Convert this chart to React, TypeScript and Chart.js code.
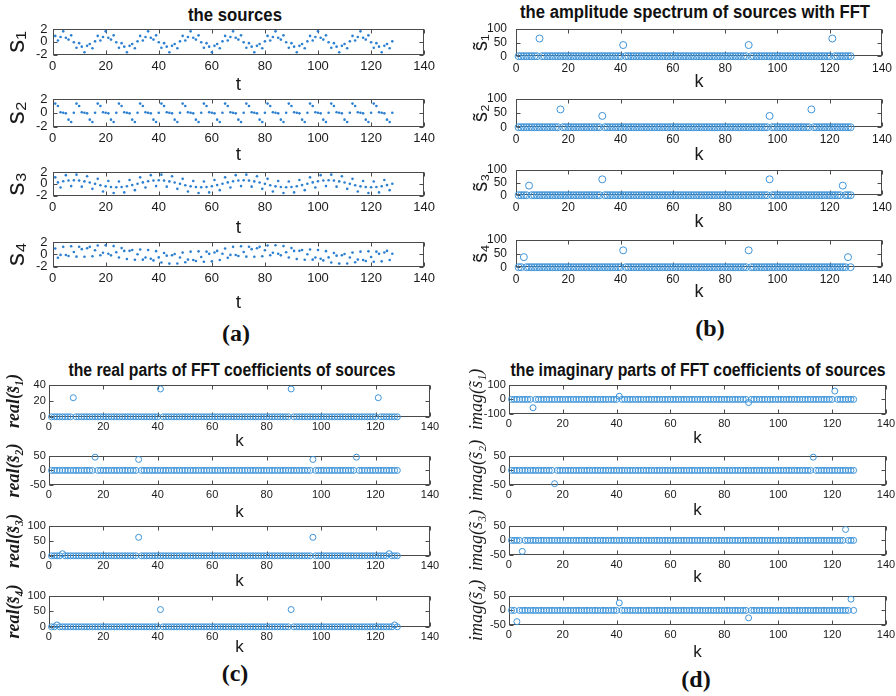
import React, { useEffect, useRef } from 'react';
import { Chart, registerables } from 'chart.js';

Chart.register(...registerables);

// ---------------- data ----------------
const X_TICKS = [0, 20, 40, 60, 80, 100, 120, 140];
const SRC_Y_TICKS = [-2, 0, 2];
const AMP_Y_TICKS = [0, 50, 100];
const REAL1_Y_TICKS = [0, 20, 40];
const PM50_Y_TICKS = [-50, 0, 50];
const PM100_Y_TICKS = [-100, 0, 100];

const PANEL_TITLES = [
  'the sources',
  'the amplitude spectrum of sources with FFT',
  'the real parts of FFT coefficients of sources',
  'the imaginary parts of FFT coefficients of sources',
];
const PANEL_TAGS = ['(a)', '(b)', '(c)', '(d)'];
const SUBSCRIPTS = ['\u2081', '\u2082', '\u2083', '\u2084'];

// sources s1..s4, t = 1..128
const s1 = [
  0.92,0.21,0.76,1.63,0.63,0.34,1.01,-0.07,-0.92,-0.21,-0.76,-1.63,-0.63,-0.34,-1.01,0.07,
  0.92,0.21,0.76,1.63,0.63,0.34,1.01,-0.07,-0.92,-0.21,-0.76,-1.63,-0.63,-0.34,-1.01,0.07,
  0.92,0.21,0.76,1.63,0.63,0.34,1.01,-0.07,-0.92,-0.21,-0.76,-1.63,-0.63,-0.34,-1.01,0.07,
  0.92,0.21,0.76,1.63,0.63,0.34,1.01,-0.07,-0.92,-0.21,-0.76,-1.63,-0.63,-0.34,-1.01,0.07,
  0.92,0.21,0.76,1.63,0.63,0.34,1.01,-0.07,-0.92,-0.21,-0.76,-1.63,-0.63,-0.34,-1.01,0.07,
  0.92,0.21,0.76,1.63,0.63,0.34,1.01,-0.07,-0.92,-0.21,-0.76,-1.63,-0.63,-0.34,-1.01,0.07,
  0.92,0.21,0.76,1.63,0.63,0.34,1.01,-0.07,-0.92,-0.21,-0.76,-1.63,-0.63,-0.34,-1.01,0.07,
  0.92,0.21,0.76,1.63,0.63,0.34,1.01,-0.07,-0.92,-0.21,-0.76,-1.63,-0.63,-0.34,-1.01,0.07,
];
const s2 = [
  1.33,0.99,0.08,0,-0.08,-0.99,-1.33,0,1.33,0.99,0.08,0,-0.08,-0.99,-1.33,0,
  1.33,0.99,0.08,0,-0.08,-0.99,-1.33,0,1.33,0.99,0.08,0,-0.08,-0.99,-1.33,0,
  1.33,0.99,0.08,0,-0.08,-0.99,-1.33,0,1.33,0.99,0.08,0,-0.08,-0.99,-1.33,0,
  1.33,0.99,0.08,0,-0.08,-0.99,-1.33,0,1.33,0.99,0.08,0,-0.08,-0.99,-1.33,0,
  1.33,0.99,0.08,0,-0.08,-0.99,-1.33,0,1.33,0.99,0.08,0,-0.08,-0.99,-1.33,0,
  1.33,0.99,0.08,0,-0.08,-0.99,-1.33,0,1.33,0.99,0.08,0,-0.08,-0.99,-1.33,0,
  1.33,0.99,0.08,0,-0.08,-0.99,-1.33,0,1.33,0.99,0.08,0,-0.08,-0.99,-1.33,0,
  1.33,0.99,0.08,0,-0.08,-0.99,-1.33,0,1.33,0.99,0.08,0,-0.08,-0.99,-1.33,0,
];
const s3 = [
  1.09,0.24,-0.63,0.43,1.47,0.55,-0.39,0.59,1.55,0.54,-0.48,0.41,1.29,0.22,-0.86,-0.01,
  0.84,-0.24,-1.31,-0.43,0.47,-0.55,-1.55,-0.59,0.39,-0.54,-1.46,-0.41,0.65,-0.22,-1.08,0.01,
  1.09,0.24,-0.63,0.43,1.47,0.55,-0.39,0.59,1.55,0.54,-0.48,0.41,1.29,0.22,-0.86,-0.01,
  0.84,-0.24,-1.31,-0.43,0.47,-0.55,-1.55,-0.59,0.39,-0.54,-1.46,-0.41,0.65,-0.22,-1.08,0.01,
  1.09,0.24,-0.63,0.43,1.47,0.55,-0.39,0.59,1.55,0.54,-0.48,0.41,1.29,0.22,-0.86,-0.01,
  0.84,-0.24,-1.31,-0.43,0.47,-0.55,-1.55,-0.59,0.39,-0.54,-1.46,-0.41,0.65,-0.22,-1.08,0.01,
  1.09,0.24,-0.63,0.43,1.47,0.55,-0.39,0.59,1.55,0.54,-0.48,0.41,1.29,0.22,-0.86,-0.01,
  0.84,-0.24,-1.31,-0.43,0.47,-0.55,-1.55,-0.59,0.39,-0.54,-1.46,-0.41,0.65,-0.22,-1.08,0.01,
];
const s4 = [
  0.95,-0.57,-0.10,1.21,-0.11,-0.28,1.31,0.38,-0.38,1.23,0.84,-0.40,0.99,1.21,-0.32,0.65,
  1.44,-0.15,0.24,1.48,0.08,-0.17,1.33,0.33,-0.52,1.01,0.55,-0.77,0.56,0.71,-0.89,0.02,
  0.77,-0.87,-0.51,0.70,-0.73,-0.99,0.51,-0.50,-1.33,0.21,-0.22,-1.51,-0.15,0.05,-1.49,-0.52,
  0.28,-1.29,-0.86,0.43,-0.92,-1.10,0.48,-0.45,-1.20,0.43,0.07,-1.15,0.29,0.55,-0.93,0.10,
  0.95,-0.57,-0.10,1.21,-0.11,-0.28,1.31,0.38,-0.38,1.23,0.84,-0.40,0.99,1.21,-0.32,0.65,
  1.44,-0.15,0.24,1.48,0.08,-0.17,1.33,0.33,-0.52,1.01,0.55,-0.77,0.56,0.71,-0.89,0.02,
  0.77,-0.87,-0.51,0.70,-0.73,-0.99,0.51,-0.50,-1.33,0.21,-0.22,-1.51,-0.15,0.05,-1.49,-0.52,
  0.28,-1.29,-0.86,0.43,-0.92,-1.10,0.48,-0.45,-1.20,0.43,0.07,-1.15,0.29,0.55,-0.93,0.10,
];

// amplitude spectra |FFT|, k = 1..128
const amp1 = [
  0,0,0,0,0,0,0,0,65,0,0,0,0,0,0,0, 0,0,0,0,0,0,0,0,0,0,0,0,0,0,0,0,
  0,0,0,0,0,0,0,0,41,0,0,0,0,0,0,0, 0,0,0,0,0,0,0,0,0,0,0,0,0,0,0,0,
  0,0,0,0,0,0,0,0,0,0,0,0,0,0,0,0, 0,0,0,0,0,0,0,0,41,0,0,0,0,0,0,0,
  0,0,0,0,0,0,0,0,0,0,0,0,0,0,0,0, 0,0,0,0,0,0,0,0,65,0,0,0,0,0,0,0,
];
const amp2 = [
  0,0,0,0,0,0,0,0,0,0,0,0,0,0,0,0, 63,0,0,0,0,0,0,0,0,0,0,0,0,0,0,0,
  40,0,0,0,0,0,0,0,0,0,0,0,0,0,0,0, 0,0,0,0,0,0,0,0,0,0,0,0,0,0,0,0,
  0,0,0,0,0,0,0,0,0,0,0,0,0,0,0,0, 0,0,0,0,0,0,0,0,0,0,0,0,0,0,0,0,
  40,0,0,0,0,0,0,0,0,0,0,0,0,0,0,0, 63,0,0,0,0,0,0,0,0,0,0,0,0,0,0,0,
];
const amp3 = [
  0,0,0,0,38,0,0,0,0,0,0,0,0,0,0,0, 0,0,0,0,0,0,0,0,0,0,0,0,0,0,0,0,
  63,0,0,0,0,0,0,0,0,0,0,0,0,0,0,0, 0,0,0,0,0,0,0,0,0,0,0,0,0,0,0,0,
  0,0,0,0,0,0,0,0,0,0,0,0,0,0,0,0, 0,0,0,0,0,0,0,0,0,0,0,0,0,0,0,0,
  63,0,0,0,0,0,0,0,0,0,0,0,0,0,0,0, 0,0,0,0,0,0,0,0,0,0,0,0,38,0,0,0,
];
const amp4 = [
  0,0,37,0,0,0,0,0,0,0,0,0,0,0,0,0, 0,0,0,0,0,0,0,0,0,0,0,0,0,0,0,0,
  0,0,0,0,0,0,0,0,62,0,0,0,0,0,0,0, 0,0,0,0,0,0,0,0,0,0,0,0,0,0,0,0,
  0,0,0,0,0,0,0,0,0,0,0,0,0,0,0,0, 0,0,0,0,0,0,0,0,62,0,0,0,0,0,0,0,
  0,0,0,0,0,0,0,0,0,0,0,0,0,0,0,0, 0,0,0,0,0,0,0,0,0,0,0,0,0,0,37,0,
];

// real parts of FFT coefficients
const re1 = [
  0,0,0,0,0,0,0,0,24,0,0,0,0,0,0,0, 0,0,0,0,0,0,0,0,0,0,0,0,0,0,0,0,
  0,0,0,0,0,0,0,0,35,0,0,0,0,0,0,0, 0,0,0,0,0,0,0,0,0,0,0,0,0,0,0,0,
  0,0,0,0,0,0,0,0,0,0,0,0,0,0,0,0, 0,0,0,0,0,0,0,0,35,0,0,0,0,0,0,0,
  0,0,0,0,0,0,0,0,0,0,0,0,0,0,0,0, 0,0,0,0,0,0,0,0,24,0,0,0,0,0,0,0,
];
const re2 = [
  0,0,0,0,0,0,0,0,0,0,0,0,0,0,0,0, 46,0,0,0,0,0,0,0,0,0,0,0,0,0,0,0,
  38,0,0,0,0,0,0,0,0,0,0,0,0,0,0,0, 0,0,0,0,0,0,0,0,0,0,0,0,0,0,0,0,
  0,0,0,0,0,0,0,0,0,0,0,0,0,0,0,0, 0,0,0,0,0,0,0,0,0,0,0,0,0,0,0,0,
  38,0,0,0,0,0,0,0,0,0,0,0,0,0,0,0, 46,0,0,0,0,0,0,0,0,0,0,0,0,0,0,0,
];
const re3 = [
  0,0,0,0,7,0,0,0,0,0,0,0,0,0,0,0, 0,0,0,0,0,0,0,0,0,0,0,0,0,0,0,0,
  62,0,0,0,0,0,0,0,0,0,0,0,0,0,0,0, 0,0,0,0,0,0,0,0,0,0,0,0,0,0,0,0,
  0,0,0,0,0,0,0,0,0,0,0,0,0,0,0,0, 0,0,0,0,0,0,0,0,0,0,0,0,0,0,0,0,
  62,0,0,0,0,0,0,0,0,0,0,0,0,0,0,0, 0,0,0,0,0,0,0,0,0,0,0,0,7,0,0,0,
];
const re4 = [
  0,0,6,0,0,0,0,0,0,0,0,0,0,0,0,0, 0,0,0,0,0,0,0,0,0,0,0,0,0,0,0,0,
  0,0,0,0,0,0,0,0,56,0,0,0,0,0,0,0, 0,0,0,0,0,0,0,0,0,0,0,0,0,0,0,0,
  0,0,0,0,0,0,0,0,0,0,0,0,0,0,0,0, 0,0,0,0,0,0,0,0,56,0,0,0,0,0,0,0,
  0,0,0,0,0,0,0,0,0,0,0,0,0,0,0,0, 0,0,0,0,0,0,0,0,0,0,0,0,0,0,6,0,
];

// imaginary parts of FFT coefficients
const im1 = [
  0,0,0,0,0,0,0,0,-58,0,0,0,0,0,0,0, 0,0,0,0,0,0,0,0,0,0,0,0,0,0,0,0,
  0,0,0,0,0,0,0,0,22,0,0,0,0,0,0,0, 0,0,0,0,0,0,0,0,0,0,0,0,0,0,0,0,
  0,0,0,0,0,0,0,0,0,0,0,0,0,0,0,0, 0,0,0,0,0,0,0,0,-22,0,0,0,0,0,0,0,
  0,0,0,0,0,0,0,0,0,0,0,0,0,0,0,0, 0,0,0,0,0,0,0,0,58,0,0,0,0,0,0,0,
];
const im2 = [
  0,0,0,0,0,0,0,0,0,0,0,0,0,0,0,0, -46,0,0,0,0,0,0,0,0,0,0,0,0,0,0,0,
  0,0,0,0,0,0,0,0,0,0,0,0,0,0,0,0, 0,0,0,0,0,0,0,0,0,0,0,0,0,0,0,0,
  0,0,0,0,0,0,0,0,0,0,0,0,0,0,0,0, 0,0,0,0,0,0,0,0,0,0,0,0,0,0,0,0,
  0,0,0,0,0,0,0,0,0,0,0,0,0,0,0,0, 46,0,0,0,0,0,0,0,0,0,0,0,0,0,0,0,
];
const im3 = [
  0,0,0,0,-38,0,0,0,0,0,0,0,0,0,0,0, 0,0,0,0,0,0,0,0,0,0,0,0,0,0,0,0,
  0,0,0,0,0,0,0,0,0,0,0,0,0,0,0,0, 0,0,0,0,0,0,0,0,0,0,0,0,0,0,0,0,
  0,0,0,0,0,0,0,0,0,0,0,0,0,0,0,0, 0,0,0,0,0,0,0,0,0,0,0,0,0,0,0,0,
  0,0,0,0,0,0,0,0,0,0,0,0,0,0,0,0, 0,0,0,0,0,0,0,0,0,0,0,0,38,0,0,0,
];
const im4 = [
  0,0,-39,0,0,0,0,0,0,0,0,0,0,0,0,0, 0,0,0,0,0,0,0,0,0,0,0,0,0,0,0,0,
  0,0,0,0,0,0,0,0,26,0,0,0,0,0,0,0, 0,0,0,0,0,0,0,0,0,0,0,0,0,0,0,0,
  0,0,0,0,0,0,0,0,0,0,0,0,0,0,0,0, 0,0,0,0,0,0,0,0,-26,0,0,0,0,0,0,0,
  0,0,0,0,0,0,0,0,0,0,0,0,0,0,0,0, 0,0,0,0,0,0,0,0,0,0,0,0,0,0,39,0,
];

// ---------------- styling / layout ----------------
const SANS = "'Liberation Sans', Arial, 'DejaVu Sans', sans-serif";
const SERIF = "'Liberation Serif', 'Times New Roman', 'DejaVu Serif', serif";
const DOT_COLOR = '#2b7fd0';
const CIRCLE_COLOR = '#3d93d8';
const TEXT_COLOR = '#1a1a1a';
const PAD_TOP = 34;
const PAD_RIGHT = 14;

const PANELS = [
  {
    series: [s1, s2, s3, s4],
    yTicks: [SRC_Y_TICKS, SRC_Y_TICKS, SRC_Y_TICKS, SRC_Y_TICKS],
    yLabel: (i: number) => 's' + SUBSCRIPTS[i],
    xLabel: 't',
    boxL: 53, boxR: 425,
    rows: [[29, 55, 30], [99, 127, 28], [172, 196, 32], [242, 267, 36]],
    yTitleX: 17, yTitleFont: { family: SANS, size: 26 },
    yTickPad: 5, tickSize: 13, xTitleSize: 19, xTickPad: 4,
    radius: 1.3, filled: true,
  },
  {
    series: [amp1, amp2, amp3, amp4],
    yTicks: [AMP_Y_TICKS, AMP_Y_TICKS, AMP_Y_TICKS, AMP_Y_TICKS],
    yLabel: (i: number) => 's\u0303' + SUBSCRIPTS[i],
    xLabel: 'k',
    boxL: 516, boxR: 883,
    rows: [[29, 56, 26], [99, 127, 28], [170, 195, 27], [240, 267, 25]],
    yTitleX: 481, yTitleFont: { family: SANS, size: 20 },
    yTickPad: 9, tickSize: 12, xTitleSize: 18, xTickPad: 5,
    radius: 3.5, filled: false,
  },
  {
    series: [re1, re2, re3, re4],
    yTicks: [REAL1_Y_TICKS, PM50_Y_TICKS, AMP_Y_TICKS, AMP_Y_TICKS],
    yLabel: (i: number) => 'real(s\u0303' + SUBSCRIPTS[i] + ')',
    xLabel: 'k',
    boxL: 49, boxR: 430,
    rows: [[385, 417, 25], [456, 485, 28], [526, 556, 26], [596, 627, 21]],
    yTitleX: 15, yTitleFont: { family: SERIF, size: 18, style: 'italic', weight: 'bold' },
    yTickPad: 3, tickSize: 11, xTitleSize: 17, xTickPad: 4,
    radius: 3, filled: false,
  },
  {
    series: [im1, im2, im3, im4],
    yTicks: [PM100_Y_TICKS, PM50_Y_TICKS, PM50_Y_TICKS, PM50_Y_TICKS],
    yLabel: (i: number) => 'imag(s\u0303' + SUBSCRIPTS[i] + ')',
    xLabel: 'k',
    boxL: 509, boxR: 886,
    rows: [[385, 414, 25], [456, 485, 26], [526, 555, 23], [596, 625, 28]],
    yTitleX: 477, yTitleFont: { family: SERIF, size: 18, style: 'italic' },
    yTickPad: 3, tickSize: 11, xTitleSize: 17, xTickPad: 4,
    radius: 3, filled: false,
  },
];

const TITLE_POS = [
  { cx: 235, cy: 15, w: 94 },
  { cx: 695, cy: 12, w: 350 },
  { cx: 232, cy: 370, w: 327 },
  { cx: 698, cy: 370, w: 375 },
];
const TAG_POS = [
  { cx: 236, cy: 333 },
  { cx: 710, cy: 328 },
  { cx: 235, cy: 673 },
  { cx: 696, cy: 679 },
];

// MATLAB-like box with inward ticks
const boxPlugin = {
  id: 'matlabBox',
  beforeDatasetsDraw(chart: any) {
    const { ctx, chartArea: a, scales } = chart;
    const xs = scales.x;
    const ys = scales.y;
    ctx.save();
    ctx.strokeStyle = '#4a4a4a';
    ctx.lineWidth = 1;
    const L = Math.round(a.left) + 0.5;
    const R = Math.round(a.right) - 0.5;
    const T = Math.round(a.top) + 0.5;
    const B = Math.round(a.bottom) - 0.5;
    ctx.strokeRect(L, T, R - L, B - T);
    ctx.beginPath();
    xs.ticks.forEach((t: any) => {
      const px = Math.round(xs.getPixelForValue(t.value)) + 0.5;
      ctx.moveTo(px, B); ctx.lineTo(px, B - 4);
      ctx.moveTo(px, T); ctx.lineTo(px, T + 4);
    });
    ys.ticks.forEach((t: any) => {
      const py = Math.round(ys.getPixelForValue(t.value)) + 0.5;
      ctx.moveTo(L, py); ctx.lineTo(L + 4, py);
      ctx.moveTo(R, py); ctx.lineTo(R - 4, py);
    });
    ctx.stroke();
    ctx.restore();
  },
};

type PlotCfg = {
  left: number; top: number; w: number; h: number;
  yW: number; xH: number;
  values: number[]; yTicks: number[];
  xLabel: string; yLabel: string;
  panel: any;
};

function buildPlots(): PlotCfg[] {
  const out: PlotCfg[] = [];
  PANELS.forEach((p) => {
    p.rows.forEach((r, i) => {
      const [bt, bb, titleOff] = r;
      const lh = p.yTitleFont.size * 1.2;
      const left = p.yTitleX - lh / 2;
      const yW = p.boxL - left;
      const xH = titleOff + (p.xTitleSize * 1.2) / 2;
      out.push({
        left,
        top: bt - PAD_TOP,
        w: Math.round(yW + (p.boxR - p.boxL) + PAD_RIGHT),
        h: Math.round(PAD_TOP + (bb - bt) + xH),
        yW, xH,
        values: p.series[i],
        yTicks: p.yTicks[i],
        xLabel: p.xLabel,
        yLabel: p.yLabel(i),
        panel: p,
      });
    });
  });
  return out;
}

function Plot({ cfg }: { cfg: PlotCfg }) {
  const ref = useRef<HTMLCanvasElement>(null);
  useEffect(() => {
    const p = cfg.panel;
    const color = p.filled ? DOT_COLOR : CIRCLE_COLOR;
    const chart = new Chart(ref.current as HTMLCanvasElement, {
      type: 'scatter',
      data: {
        datasets: [
          {
            data: cfg.values.map((v, i) => ({ x: i + 1, y: v })),
            pointStyle: 'circle',
            pointRadius: p.radius,
            pointBorderWidth: p.filled ? 0 : 1,
            pointBackgroundColor: p.filled ? color : 'rgba(0,0,0,0)',
            pointBorderColor: color,
            clip: false as any,
          } as any,
        ],
      },
      options: {
        animation: false,
        responsive: false,
        devicePixelRatio: 1,
        events: [],
        layout: { padding: { top: PAD_TOP, right: PAD_RIGHT, bottom: 0, left: 0 } },
        plugins: {
          legend: { display: false },
          tooltip: { enabled: false },
          title: { display: false },
        },
        scales: {
          x: {
            type: 'linear',
            min: X_TICKS[0],
            max: X_TICKS[X_TICKS.length - 1],
            afterBuildTicks: (s: any) => { s.ticks = X_TICKS.map((v) => ({ value: v })); },
            afterFit: (s: any) => { s.height = cfg.xH; },
            grid: { display: false, drawTicks: false },
            border: { display: false },
            ticks: {
              autoSkip: false, maxRotation: 0, minRotation: 0,
              padding: p.xTickPad, color: TEXT_COLOR,
              font: { family: SANS, size: p.tickSize },
            },
            title: {
              display: true, text: cfg.xLabel, color: TEXT_COLOR,
              padding: 0, font: { family: SANS, size: p.xTitleSize },
            },
          },
          y: {
            type: 'linear',
            min: cfg.yTicks[0],
            max: cfg.yTicks[cfg.yTicks.length - 1],
            afterBuildTicks: (s: any) => { s.ticks = cfg.yTicks.map((v) => ({ value: v })); },
            afterFit: (s: any) => { s.width = cfg.yW; },
            grid: { display: false, drawTicks: false },
            border: { display: false },
            ticks: {
              autoSkip: false, padding: p.yTickPad, color: TEXT_COLOR,
              font: { family: SANS, size: p.tickSize },
            },
            title: {
              display: true, text: cfg.yLabel, color: TEXT_COLOR,
              padding: 0, font: p.yTitleFont,
            },
          },
        },
      } as any,
      plugins: [boxPlugin],
    });
    return () => chart.destroy();
  }, []);
  return (
    <canvas
      ref={ref}
      width={cfg.w}
      height={cfg.h}
      style={{ position: 'absolute', left: cfg.left, top: cfg.top, width: cfg.w, height: cfg.h }}
    />
  );
}

let measureCtx: CanvasRenderingContext2D | null = null;
function textWidth(text: string, font: string): number {
  if (!measureCtx) measureCtx = document.createElement('canvas').getContext('2d');
  if (!measureCtx) return 1;
  measureCtx.font = font;
  return measureCtx.measureText(text).width || 1;
}

function PanelTitle({ text, cx, cy, w }: { text: string; cx: number; cy: number; w: number }) {
  const font = `bold 18px ${SANS}`;
  const k = w / textWidth(text, font);
  return (
    <div
      style={{
        position: 'absolute', left: cx, top: cy, whiteSpace: 'nowrap',
        font, lineHeight: '18px', color: '#111',
        transform: `translate(-50%, -50%) scaleX(${k})`,
      }}
    >
      {text}
    </div>
  );
}

function Tag({ text, cx, cy }: { text: string; cx: number; cy: number }) {
  return (
    <div
      style={{
        position: 'absolute', left: cx, top: cy, whiteSpace: 'nowrap',
        font: `bold 24px ${SERIF}`, lineHeight: '24px', color: '#111',
        transform: 'translate(-50%, -50%)',
      }}
    >
      {text}
    </div>
  );
}

export default function App() {
  const plots = buildPlots();
  return (
    <div
      style={{
        position: 'absolute', left: 0, top: 0, width: 896, height: 696,
        overflow: 'hidden', background: '#ffffff',
      }}
    >
      {PANEL_TITLES.map((t, i) => (
        <PanelTitle key={'t' + i} text={t} cx={TITLE_POS[i].cx} cy={TITLE_POS[i].cy} w={TITLE_POS[i].w} />
      ))}
      {PANEL_TAGS.map((t, i) => (
        <Tag key={'g' + i} text={t} cx={TAG_POS[i].cx} cy={TAG_POS[i].cy} />
      ))}
      {plots.map((c, i) => (
        <Plot key={i} cfg={c} />
      ))}
    </div>
  );
}
